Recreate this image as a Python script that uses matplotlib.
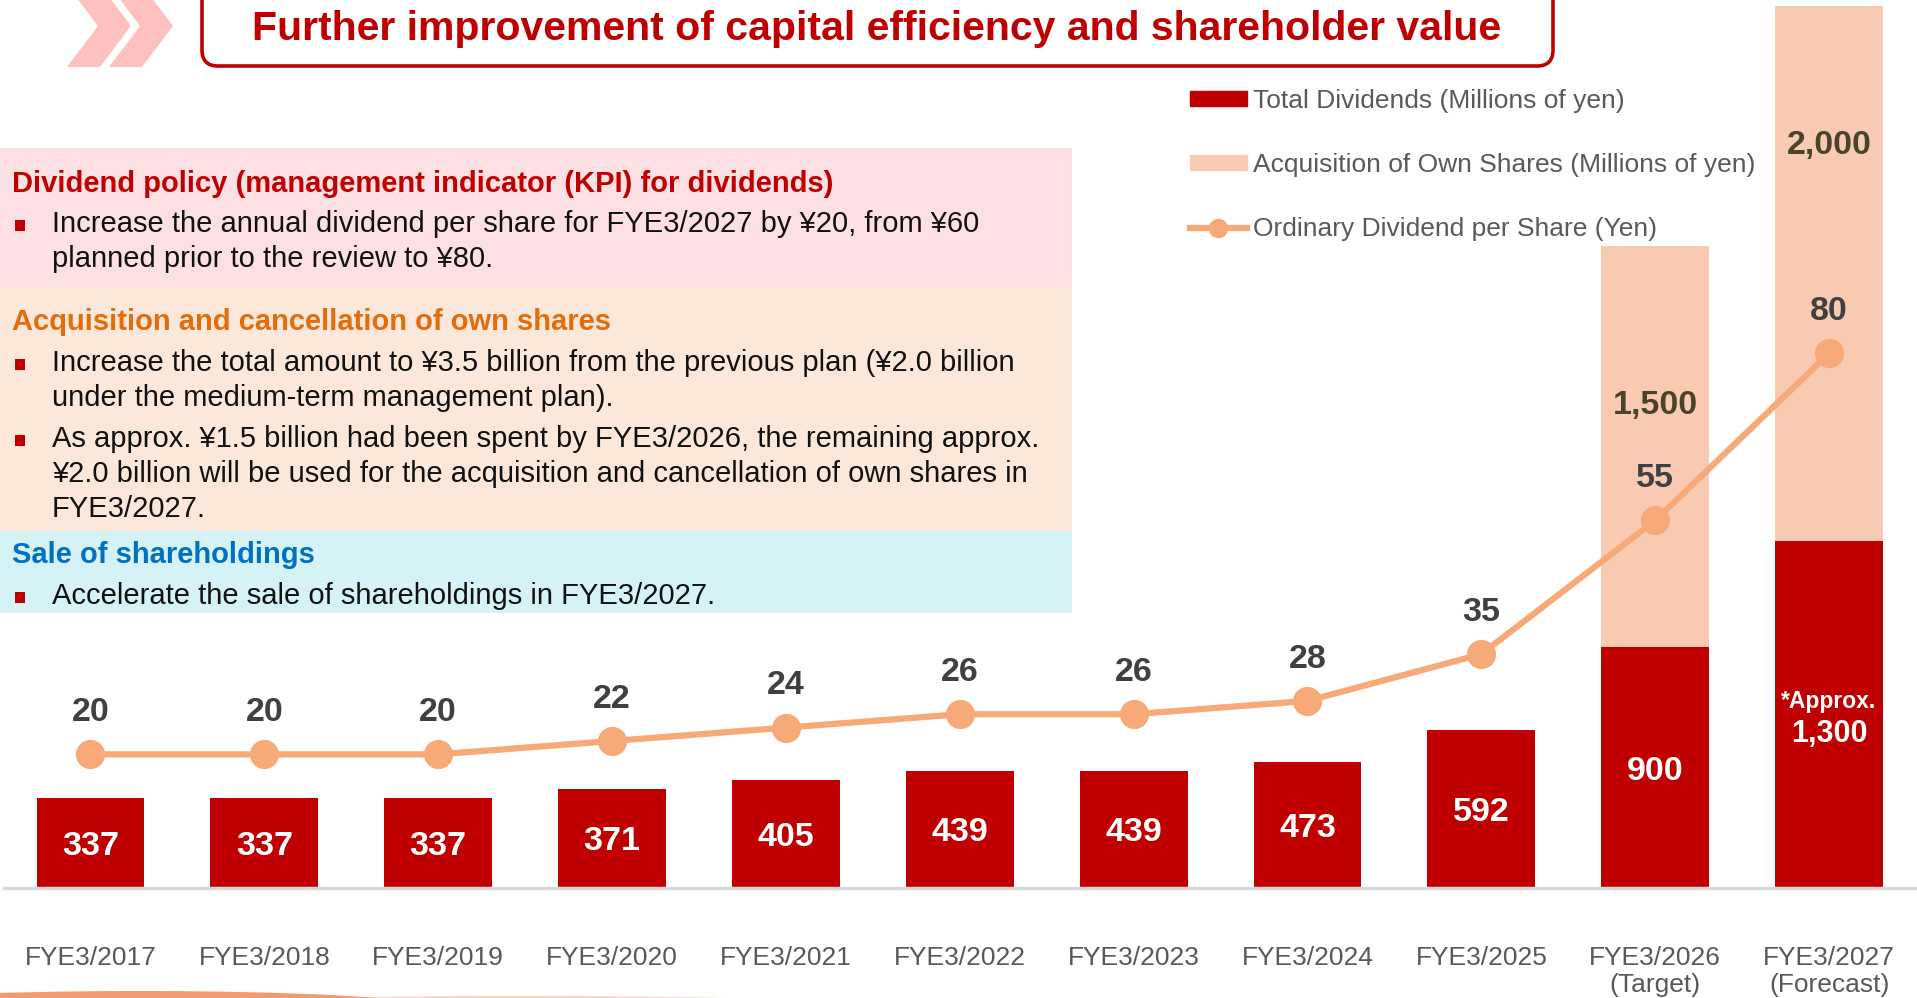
import matplotlib
matplotlib.use("Agg")
import matplotlib.pyplot as plt
from matplotlib.patches import FancyBboxPatch, Rectangle, Polygon, Ellipse, Patch
from matplotlib.lines import Line2D
import numpy as np

plt.rcParams['font.family'] = ['Liberation Sans', 'DejaVu Sans']

# ---- data ----
years = ['FYE3/2017', 'FYE3/2018', 'FYE3/2019', 'FYE3/2020', 'FYE3/2021',
         'FYE3/2022', 'FYE3/2023', 'FYE3/2024', 'FYE3/2025',
         'FYE3/2026\n(Target)', 'FYE3/2027\n(Forecast)']
total_dividends = [337, 337, 337, 371, 405, 439, 439, 473, 592, 900, 1300]
own_shares = [0, 0, 0, 0, 0, 0, 0, 0, 0, 1500, 2000]
dps = [20, 20, 20, 22, 24, 26, 26, 28, 35, 55, 80]

legend_labels = ['Total Dividends (Millions of yen)',
                 'Acquisition of Own Shares (Millions of yen)',
                 'Ordinary Dividend per Share (Yen)']

title = 'Further improvement of capital efficiency and shareholder value'

# ---- colours ----
RED = '#C00000'
PEACH = '#F8CAB2'
ORANGE_LINE = '#F7AA78'
GRAY = '#595959'

W, H = 1917, 998
fig = plt.figure(figsize=(W / 100, H / 100), dpi=100)

# chart axes, baseline at y=888 px from top
base = 888
ax = fig.add_axes([3.5 / W, (H - base) / H, (1916 - 3.5) / W, base / H])
ymax = base / 0.2673
ax.set_xlim(-0.5, 10.5)
ax.set_ylim(0, ymax)

x = np.arange(len(years))
bw = 0.62
ax.bar(x, total_dividends, width=bw, color=RED, zorder=2)
acq = np.array(own_shares)
mask = acq > 0
ax.bar(x[mask], acq[mask], width=bw, bottom=np.array(total_dividends)[mask],
       color=PEACH, zorder=2)

# labels inside red bars (nudged a little down so the digits sit centred)
for i, v in enumerate(total_dividends):
    if i == len(total_dividends) - 1:
        ax.annotate('*Approx.', (i, v / 2), xytext=(0, 9), textcoords='offset points',
                    ha='center', va='center', color='white', fontsize=16.5,
                    fontweight='bold')
        ax.annotate(f'{v:,}', (i, v / 2), xytext=(0, -14), textcoords='offset points',
                    ha='center', va='center', color='white', fontsize=22,
                    fontweight='bold')
    else:
        ax.annotate(f'{v:,}', (i, v / 2), xytext=(0, -2.5), textcoords='offset points',
                    ha='center', va='center', color='white', fontsize=24.5,
                    fontweight='bold')

# labels on own-share segments
label_frac = {9: 0.612, 10: 0.745}
for i in x[mask]:
    yv = total_dividends[i] + label_frac[i] * own_shares[i]
    ax.annotate(f'{own_shares[i]:,}', (i, yv), xytext=(0, -2.5), textcoords='offset points',
                ha='center', va='center', color='#4A4329', fontsize=24.5,
                fontweight='bold')

for s in ['top', 'left', 'right']:
    ax.spines[s].set_visible(False)
ax.spines['bottom'].set_color('#D9D9D9')
ax.spines['bottom'].set_linewidth(2.5)
ax.set_yticks([])
ax.set_xticks(x, years)
ax.tick_params(axis='x', length=0, pad=42, labelsize=19, labelcolor=GRAY)
for t in ax.get_xticklabels():
    t.set_linespacing(1.12)
ax.patch.set_alpha(0)

# dividend per share line on twin axis
ax2 = ax.twinx()
ax2.set_ylim(0, ymax / 25)
ax2.plot(x, dps, color=ORANGE_LINE, lw=4.5, marker='o', ms=20, zorder=3)
for i, v in enumerate(dps):
    ax2.annotate(str(v), (i, v), xytext=(0, 30), textcoords='offset points',
                 ha='center', va='center', color='#404040', fontsize=24.5,
                 fontweight='bold')
ax2.set_yticks([])
for s in ['top', 'left', 'right', 'bottom']:
    ax2.spines[s].set_visible(False)

handles = [Patch(color=RED), Patch(color=PEACH),
           Line2D([], [], color=ORANGE_LINE, lw=4.5, marker='o', ms=13)]
leg = ax2.legend(handles, legend_labels, loc='upper left',
                 bbox_to_anchor=(1190 / W, 1 - 89 / H), bbox_transform=fig.transFigure,
                 frameon=False, fontsize=19, labelcolor=GRAY, handlelength=2.15,
                 handleheight=0.5, handletextpad=0.23, labelspacing=1.52,
                 borderpad=0, borderaxespad=0)

# ---- overlay: title, chevrons, policy text panels ----
ov = fig.add_axes([0, 0, 1, 1], zorder=5)
ov.set_xlim(0, W)
ov.set_ylim(H, 0)
ov.axis('off')
ov.patch.set_alpha(0)

for xa in [67, 109]:
    ov.add_patch(Polygon([(xa, -15), (xa + 33, -15), (xa + 64, 26), (xa + 33, 67),
                          (xa, 67), (xa + 31, 26)], closed=True,
                         color='#FFC0C0', lw=0))

ov.add_patch(FancyBboxPatch((202, -40), 1351, 106,
                            boxstyle='round,pad=0,rounding_size=16',
                            fc='white', ec=RED, lw=2.6))
ov.text(877, 29, title, ha='center', va='center', color=RED, fontsize=29.5,
        fontweight='bold')

panels = [(148, 287, '#FDE0E3'), (287, 531, '#FCE8DA'), (531, 613, '#D5F3F7')]
for y0, y1, c in panels:
    ov.add_patch(Rectangle((0, y0), 1072, y1 - y0, color=c, lw=0))

headings = [('Dividend policy (management indicator (KPI) for dividends)', 184, RED),
            ('Acquisition and cancellation of own shares', 322, '#E46C0A'),
            ('Sale of shareholdings', 555, '#0070C0')]
for txt, yy, c in headings:
    ov.text(12, yy, txt, ha='left', va='center', color=c, fontsize=21,
            fontweight='bold')

body = [('Increase the annual dividend per share for FYE3/2027 by ¥20, from ¥60', 224, True),
        ('planned prior to the review to ¥80.', 259, False),
        ('Increase the total amount to ¥3.5 billion from the previous plan (¥2.0 billion', 363, True),
        ('under the medium-term management plan).', 398, False),
        ('As approx. ¥1.5 billion had been spent by FYE3/2026, the remaining approx.', 439, True),
        ('¥2.0 billion will be used for the acquisition and cancellation of own shares in', 474, False),
        ('FYE3/2027.', 509, False),
        ('Accelerate the sale of shareholdings in FYE3/2027.', 596, True)]
for txt, yy, bullet in body:
    if bullet:
        ov.add_patch(Rectangle((15, yy - 4), 10, 11, color=RED, lw=0))
    ov.text(52, yy, txt, ha='left', va='center', color='#111111', fontsize=21)

# decorative swoosh at the bottom
ov.add_patch(Ellipse((520, 1004), 620, 16, color='#FAD3C0', lw=0))
ov.add_patch(Ellipse((140, 1006), 560, 30, color='#F19B6F', lw=0))

fig.savefig('out.png', dpi=100)
